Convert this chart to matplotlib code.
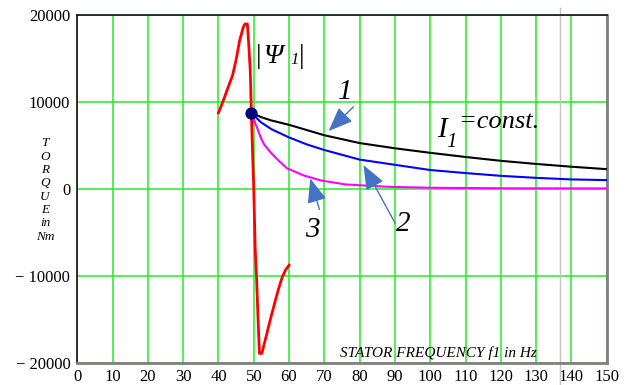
import matplotlib
matplotlib.use("Agg")
import matplotlib.pyplot as plt

plt.rcParams["font.family"] = ["Liberation Serif", "DejaVu Serif"]

# Transient torque swing while crossing the synchronous point (red)
f_red = [40, 41, 42, 43, 44, 45, 46, 47, 47.5, 48.2, 48.6, 49.0, 49.3, 49.6, 50.0,
         50.4, 50.8, 51.1, 51.6, 52.3, 53, 54, 55, 56, 57, 58, 59, 60]
t_red = [8780, 9800, 10900, 12000, 13100, 14900, 17100, 18600, 19000, 19000, 16500,
         13700, 9000, 5000, 0, -6800, -10200, -13700, -18900, -18900, -17760, -16140,
         -14510, -13000, -11500, -10200, -9300, -8750]

# Curve 1: I1 = const. (black)
f_c1 = [49.3, 52, 55, 60, 70, 80, 90, 100, 110, 120, 130, 140, 150]
t_c1 = [8800, 8300, 7900, 7400, 6200, 5300, 4700, 4180, 3700, 3260, 2900, 2580, 2300]

# Curve 2 (blue)
f_c2 = [49.3, 52, 55, 60, 65, 70, 80, 90, 100, 110, 120, 130, 140, 150]
t_c2 = [8800, 7700, 6900, 5950, 5150, 4500, 3400, 2800, 2200, 1850, 1530, 1300, 1120, 1040]

# Curve 3 (magenta)
f_c3 = [49.3, 50, 51, 52, 53, 54.6, 57, 59.4, 64, 69, 76, 88, 100, 120, 150]
t_c3 = [8800, 8000, 7000, 5900, 5100, 4300, 3300, 2400, 1600, 1000, 540, 270, 160, 100, 80]

# Common starting point of the three curves
f_start = [49.3]
t_start = [8800]

x_ticks = list(range(0, 151, 10))
x_tick_labels = [str(v) for v in x_ticks]
y_ticks = [-20000, -10000, 0, 10000, 20000]
y_tick_labels = ["\u2212 20000", "\u2212 10000", "0", "10000", "20000"]

W, H = 640, 385
fig = plt.figure(figsize=(W / 100, H / 100), dpi=100)
ax_l, ax_r, ax_t, ax_b = 77.3, 606.7, 15.3, 363.0
ax = fig.add_axes([ax_l / W, 1 - ax_b / H, (ax_r - ax_l) / W, (ax_b - ax_t) / H])

ax.set_xlim(0, 150)
ax.set_ylim(-20000, 20000)
ax.set_xticks(x_ticks)
ax.set_xticklabels(x_tick_labels)
ax.set_yticks(y_ticks)
ax.set_yticklabels(y_tick_labels)
ax.tick_params(axis="both", length=0, labelsize=12)
ax.tick_params(axis="x", pad=4.5)
ax.tick_params(axis="y", pad=5)
ax.grid(True, color="#22ee22", lw=1.1)
ax.set_axisbelow(True)

for side in ("left", "top"):
    ax.spines[side].set_color("#111111")
    ax.spines[side].set_linewidth(1.2)
for side in ("right", "bottom"):
    ax.spines[side].set_color("#808080")
    ax.spines[side].set_linewidth(2.0)

# thin light-grey rule crossing the whole plot
ax.axvline(136.7, ymin=-(H - ax_b) / (ax_b - ax_t), ymax=1 + (ax_t - 8) / (ax_b - ax_t),
           color="#c4c4c4", lw=1.0, clip_on=False, zorder=1.5)

ax.plot(f_red, t_red, color="#ff0000", lw=2.0, zorder=3)
ax.plot(f_c1, t_c1, color="#000000", lw=1.5, zorder=3)
ax.plot(f_c2, t_c2, color="#0000ff", lw=1.5, zorder=3)
ax.plot(f_c3, t_c3, color="#ff00ff", lw=1.5, zorder=3)
ax.plot(f_start, t_start, "o", color="#000080", ms=7.8, zorder=4)

# arrows pointing at the curves
arrow_col = "#4472c4"
for tail, tip in [((78.25, 9470), (71.2, 6680)),
                  ((90.1, -3950), (81.1, 2760)),
                  ((68.6, -2340), (66.0, 1230))]:
    ax.annotate("", xy=tip, xytext=tail,
                arrowprops=dict(arrowstyle="-|>,head_length=1.5,head_width=0.6",
                                mutation_scale=10, color=arrow_col, lw=1.0,
                                shrinkA=0, shrinkB=0), zorder=5)

ax.text(75.9, 11160, "1", style="italic", fontsize=21, ha="center", va="center")
ax.text(92.3, -4030, "2", style="italic", fontsize=21, ha="center", va="center")
ax.text(66.5, -4720, "3", style="italic", fontsize=21, ha="center", va="center")

ax.text(74.3, -19300, "STATOR FREQUENCY f1 in Hz", style="italic", fontsize=11,
        ha="left", va="baseline")


def ftext(x, y, s, **kw):
    fig.text(x / W, 1 - y / H, s, va="baseline", ha="left", **kw)


# |Ψ1|
ftext(255.5, 63, "|", fontsize=20)
ftext(263, 63, "\u03a8", fontsize=20, style="italic")
ftext(290, 64, "1", fontsize=12, style="italic")
ftext(298.5, 63, "|", fontsize=20)

# I1 = const.
ftext(437, 137, "I", fontsize=21, style="italic")
ftext(446, 147, "1", fontsize=15, style="italic")
ftext(459, 128, "=const.", fontsize=19, style="italic")

# stacked vertical axis caption
fig.text(45 / W, 1 - 190 / H, "T\nO\nR\nQ\nU\nE\nin\nNm", ha="center", va="center",
         style="italic", fontsize=9.5, linespacing=1.15)

fig.savefig("out.png", dpi=100)
